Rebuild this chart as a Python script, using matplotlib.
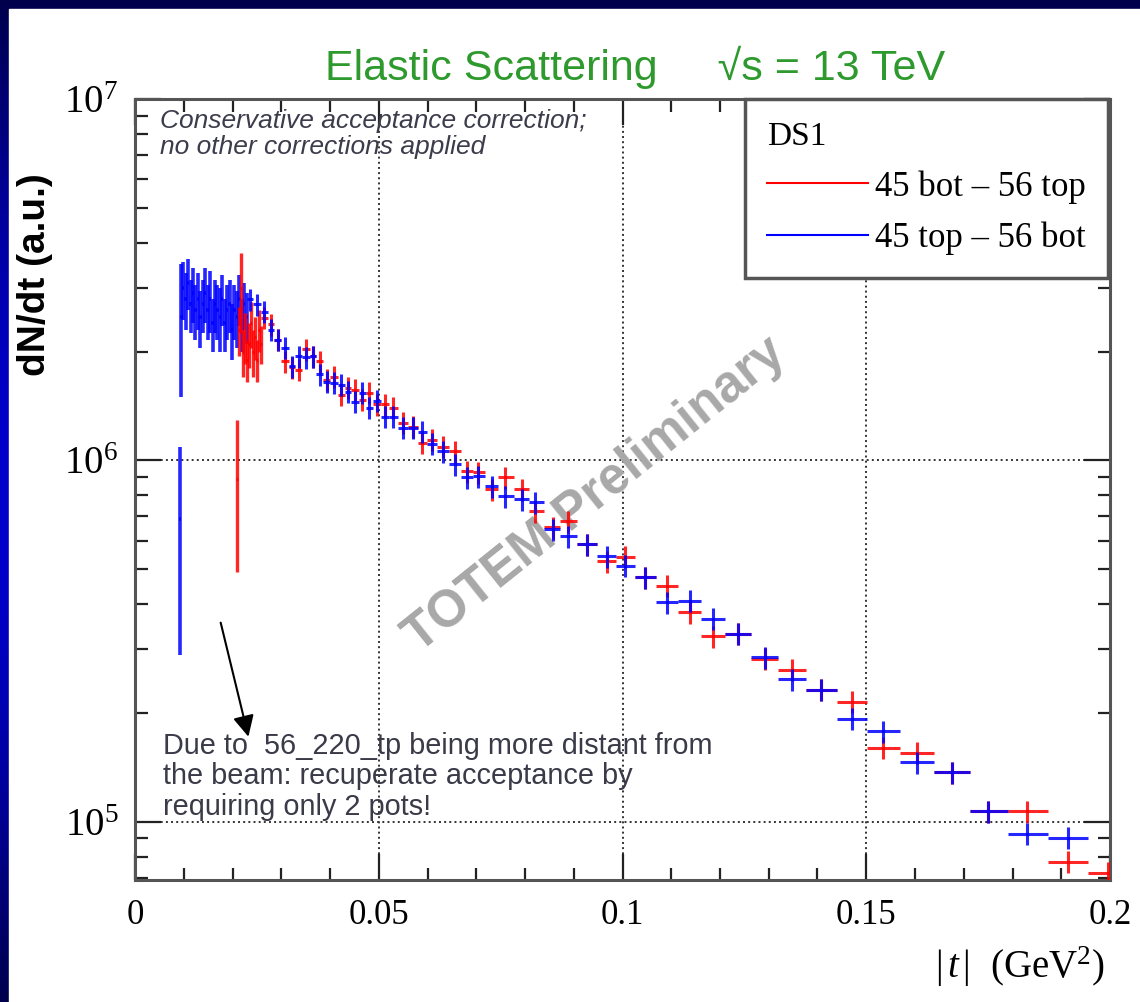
import numpy as np
import matplotlib.pyplot as plt
from matplotlib.lines import Line2D
from matplotlib.patches import Rectangle
from matplotlib.ticker import MultipleLocator, LogLocator, FuncFormatter, NullFormatter

plt.rcParams['font.family'] = ['Liberation Serif', 'DejaVu Serif']
plt.rcParams['mathtext.fontset'] = 'custom'
plt.rcParams['mathtext.rm'] = 'Liberation Serif'
plt.rcParams['mathtext.it'] = 'Liberation Serif:italic'
SANS = ['Liberation Sans', 'DejaVu Sans']

# ---- data: fine binning at low |t| ----
blue_fine_t = [0.0092, 0.0095, 0.0099, 0.0104, 0.0109, 0.0114, 0.0119, 0.0124, 0.0129, 0.0134,
               0.0139, 0.0144, 0.0149, 0.0154, 0.0159, 0.0164, 0.0169, 0.0174, 0.0179, 0.0184,
               0.0189, 0.0194, 0.0199, 0.0204, 0.0209, 0.0214, 0.0219, 0.0224, 0.0229]
blue_fine_val = [6.9e5, 2.5e6, 3.0e6, 2.8e6, 3.1e6, 2.7e6, 2.9e6, 2.6e6, 2.8e6, 2.5e6,
                 2.7e6, 2.9e6, 2.6e6, 2.8e6, 2.4e6, 2.7e6, 2.6e6, 2.5e6, 2.8e6, 2.4e6,
                 2.6e6, 2.7e6, 2.3e6, 2.6e6, 2.5e6, 2.8e6, 2.4e6, 2.7e6, 2.5e6]
blue_fine_err = [4.0e5, 1.0e6, 5.5e5, 5.0e5, 5.0e5, 4.5e5, 5.0e5, 4.5e5, 5.0e5, 4.5e5,
                 4.5e5, 5.0e5, 4.5e5, 5.5e5, 4.0e5, 4.5e5, 4.5e5, 5.0e5, 4.5e5, 4.0e5,
                 4.5e5, 4.5e5, 4.0e5, 4.5e5, 4.5e5, 4.5e5, 4.0e5, 4.0e5, 4.0e5]

red_fine_t = [0.0210, 0.0214, 0.0218, 0.0222, 0.0226, 0.0230, 0.0234, 0.0238, 0.0242,
              0.0246, 0.0250, 0.0254, 0.0258]
red_fine_val = [8.9e5, 2.3e6, 3.0e6, 2.0e6, 2.2e6, 1.9e6, 2.1e6, 2.4e6, 2.0e6,
                2.2e6, 1.9e6, 2.3e6, 2.1e6]
red_fine_err = [4.0e5, 3.5e5, 7.5e5, 3.0e5, 3.5e5, 2.5e5, 3.0e5, 3.5e5, 3.0e5,
                3.0e5, 2.5e5, 3.0e5, 2.5e5]

# ---- data: common binning ----
t_bins = [0.0236, 0.0250, 0.0265, 0.0279, 0.0293, 0.0308, 0.0322, 0.0336, 0.0351, 0.0365,
          0.0379, 0.0394, 0.0408, 0.0423, 0.0437, 0.0451, 0.0466, 0.0480, 0.0496, 0.0513,
          0.0529, 0.0550, 0.0570, 0.0589, 0.0609, 0.0632, 0.0656, 0.0681, 0.0704, 0.0732,
          0.0759, 0.0794, 0.0821, 0.0857, 0.0888, 0.0927, 0.0968, 0.1005, 0.1046, 0.1091,
          0.1138, 0.1185, 0.1237, 0.1292, 0.1347, 0.1407, 0.1471, 0.1534, 0.1604, 0.1676,
          0.1750, 0.1830, 0.1914, 0.1996]
red_val = [np.nan, np.nan, 2.48e6, 2.38e6, 2.16e6, 1.88e6, 1.81e6, 1.78e6, 2.03e6, 1.94e6,
           1.88e6, 1.67e6, 1.70e6, 1.52e6, 1.59e6, 1.57e6, 1.47e6, 1.54e6, 1.43e6, 1.43e6,
           1.40e6, 1.27e6, 1.24e6, 1.12e6, 1.14e6, 1.09e6, 1.06e6, 9.32e5, 9.26e5, 8.32e5,
           8.97e5, 8.32e5, 7.23e5, 6.53e5, 6.78e5, 5.86e5, 5.26e5, 5.40e5, 4.75e5, 4.49e5,
           3.80e5, 3.26e5, 3.31e5, 2.82e5, 2.63e5, 2.32e5, 2.15e5, 1.60e5, 1.55e5, 1.37e5,
           1.07e5, 1.07e5, 7.75e4, 7.23e4]
blue_val = [2.79e6, 2.70e6, 2.58e6, 2.30e6, 2.16e6, 2.05e6, 1.82e6, 1.94e6, 1.93e6, 1.94e6,
            1.73e6, 1.65e6, 1.64e6, 1.62e6, 1.55e6, 1.45e6, 1.54e6, 1.40e6, 1.46e6, 1.32e6,
            1.32e6, 1.23e6, 1.23e6, 1.20e6, 1.11e6, 1.06e6, 9.75e5, 8.97e5, 9.03e5, 8.48e5,
            7.96e5, 7.81e5, 7.66e5, 6.45e5, 6.17e5, 5.86e5, 5.43e5, 5.10e5, 4.75e5, 4.05e5,
            4.08e5, 3.64e5, 3.31e5, 2.85e5, 2.48e5, 2.32e5, 1.93e5, 1.78e5, 1.46e5, 1.37e5,
            1.07e5, 9.27e4, 9.03e4, np.nan]
rel_err = 0.07

t = np.array(t_bins)
mid = 0.5 * (t[1:] + t[:-1])
edges = np.concatenate([[t[0] - (mid[0] - t[0])], mid, [t[-1] + (t[-1] - mid[-1])]])
lo = t - edges[:-1]
hi = edges[1:] - t

# ---- figure with blue slide frame ----
fig = plt.figure(figsize=(11.4, 10.02), dpi=100)
bg = fig.add_axes([0, 0, 1, 1])
bg.axis('off')
s = np.linspace(0, 1, 200)
b = 0.30 + 0.50 * np.sin(np.pi * s)
grad = np.stack([np.zeros_like(s), np.zeros_like(s), b], axis=1)[:, None, :]
bg.imshow(grad, aspect='auto', extent=[0, 1, 0, 1])
bg.add_patch(Rectangle((9 / 1140, 0), 1, 1 - 9 / 1002, color='white'))
bg.set_xlim(0, 1)
bg.set_ylim(0, 1)

ax = fig.add_axes([135 / 1140, 1 - 880 / 1002, 975 / 1140, 781 / 1002])
ax.set_yscale('log')
ax.set_xlim(0, 0.2)
ax.set_ylim(6.9e4, 1e7)

ax.errorbar(blue_fine_t, blue_fine_val, xerr=0.00025, yerr=blue_fine_err, fmt='none',
            ecolor='#0000ff', elinewidth=2.6, alpha=0.85, zorder=3)
ax.errorbar(red_fine_t, red_fine_val, xerr=0.0002, yerr=red_fine_err, fmt='none',
            ecolor='#ff0000', elinewidth=2.4, alpha=0.85, zorder=3)

rv = np.array(red_val)
bv = np.array(blue_val)
m = np.isfinite(rv)
ax.errorbar(t[m], rv[m], xerr=[lo[m], hi[m]], yerr=rel_err * rv[m], fmt='none',
            ecolor='#ff0000', elinewidth=2.2, alpha=0.85, zorder=3)
m = np.isfinite(bv)
ax.errorbar(t[m], bv[m], xerr=[lo[m], hi[m]], yerr=rel_err * bv[m], fmt='none',
            ecolor='#0000ff', elinewidth=2.2, alpha=0.85, zorder=3)

# axes styling
ax.xaxis.set_major_locator(MultipleLocator(0.05))
ax.xaxis.set_minor_locator(MultipleLocator(0.01))
ax.xaxis.set_major_formatter(FuncFormatter(lambda v, p: f'{v:g}'))
ax.yaxis.set_major_locator(LogLocator(base=10, numticks=10))
ax.yaxis.set_minor_locator(LogLocator(base=10, subs=np.arange(2, 10), numticks=20))
ax.yaxis.set_minor_formatter(NullFormatter())
ax.yaxis.set_major_formatter(FuncFormatter(
    lambda v, p: r'$\mathregular{10^{%d}}$' % round(np.log10(v))))
ax.tick_params(which='both', direction='in', top=True, right=True, color='#222222', width=1.6)
ax.tick_params(which='major', length=19)
ax.tick_params(which='minor', length=9)
ax.tick_params(axis='x', labelsize=25, pad=14)
ax.tick_params(axis='y', labelsize=28, pad=12)
for sp in ax.spines.values():
    sp.set_color('#555555')
    sp.set_linewidth(2.2)
ax.grid(which='major', ls=':', color='#333333', lw=1.4)
ax.set_axisbelow(True)

# texts
fig.text(0.557, 0.933, 'Elastic Scattering     \u221as = 13 TeV', color='#2e9a2e',
         fontsize=31, family=SANS, ha='center', va='center')
fig.text(0.031, 1 - 275 / 1002, 'dN/dt (a.u.)', rotation=90, fontsize=28,
         fontweight='bold', family=SANS, ha='center', va='center')
fig.text(1105 / 1140, 1 - 967 / 1002, r'$|\,t\,|$  (GeV$^2$)', fontsize=28,
         ha='right', va='center')

ax.text(0.0256, 0.987, 'Conservative acceptance correction;\nno other corrections applied',
        transform=ax.transAxes, style='italic', fontsize=19, family=SANS,
        color='#3c3c4c', va='top', linespacing=1.1)
ax.text(0.0287, 0.190, 'Due to  56_220_tp being more distant from\n'
        'the beam: recuperate acceptance by\nrequiring only 2 pots!',
        transform=ax.transAxes, fontsize=20.8, family=SANS, color='#3a3a48',
        va='top', linespacing=1.12)
ax.annotate('', xy=(0.117, 0.180), xytext=(0.0872, 0.333), xycoords='axes fraction',
            arrowprops=dict(arrowstyle='-|>', mutation_scale=32, color='black', lw=1.5))
ax.text(0.472, 0.493, 'TOTEM Preliminary', transform=ax.transAxes, rotation=38.7,
        rotation_mode='anchor', fontsize=37, fontweight='bold', family=SANS,
        color='#a8a8a8', ha='center', va='center', zorder=1)

handles = [Line2D([], [], color='#ff0000', lw=1.5), Line2D([], [], color='#0000ff', lw=1.5)]
leg = ax.legend(handles, ['45 bot \u2013 56 top', '45 top \u2013 56 bot'], title='DS1',
                loc='upper right', bbox_to_anchor=(0.998, 1.0), fontsize=25,
                title_fontsize=24, alignment='left', fancybox=False, framealpha=1,
                edgecolor='#555555', handlelength=2.9, handletextpad=0.2,
                borderpad=0.65, labelspacing=0.52, borderaxespad=0)
leg.get_frame().set_linewidth(2.5)
leg.set_zorder(5)

fig.savefig('out.png', dpi=100)
